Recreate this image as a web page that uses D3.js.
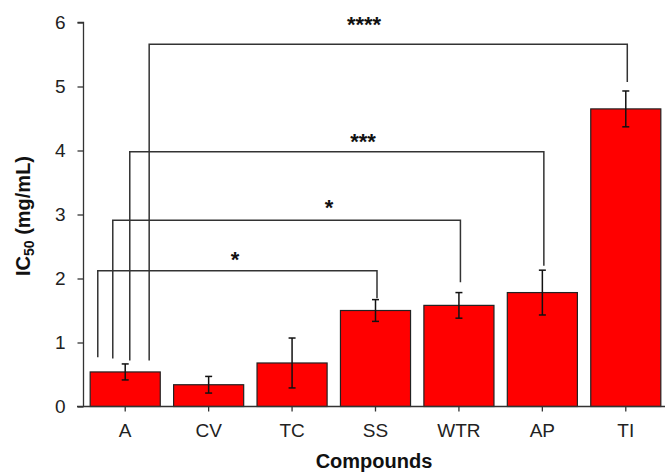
<!DOCTYPE html>
<html>
<head>
<meta charset="utf-8">
<script src="https://cdn.jsdelivr.net/npm/d3@7"></script>
<style>
  html, body { margin: 0; padding: 0; background: #fff; }
  svg { display: block; }
  text { font-family: "Liberation Sans", Arial, sans-serif; }
</style>
</head>
<body>
<svg id="chart" width="665" height="472"></svg>
<script>
// ---- data ----
const categories = ["A", "CV", "TC", "SS", "WTR", "AP", "TI"];
const ic50Values = [0.54, 0.34, 0.68, 1.50, 1.58, 1.78, 4.65];
const ic50Errors = [0.125, 0.13, 0.39, 0.17, 0.20, 0.35, 0.28];
const yTickValues = [0, 1, 2, 3, 4, 5, 6];

// significance brackets (all from "A")
const bracketFrom = ["A", "A", "A", "A"];
const bracketTo = ["SS", "WTR", "AP", "TI"];
const bracketLevel = [2.12, 2.91, 3.98, 5.66];
const bracketLeftEnd = [0.77, 0.75, 0.72, 0.72];
const bracketRightEnd = [1.69, 1.94, 2.20, 5.07];
const bracketLabels = ["*", "*", "***", "****"];

// ---- layout (pixels) ----
const legOffsets = [7.6, 22.6, 39.6, 59];     // left leg x from bar left edge
const starX = [235, 329, 363, 364];
const starDy = [4, 5, 3, 12];

const svg = d3.select("#chart");
const x = d3.scaleBand().domain(categories).range([83.5, 667.5])
  .paddingInner(0.16).paddingOuter(0.08);
const y = d3.scaleLinear().domain([0, 6]).range([406.5, 22.5]);

const axisColor = "#333";
const tickFont = 19;

// bars
svg.append("g").selectAll("rect").data(categories).join("rect")
  .attr("x", d => x(d))
  .attr("y", (d, i) => y(ic50Values[i]))
  .attr("width", x.bandwidth())
  .attr("height", (d, i) => y(0) - y(ic50Values[i]))
  .attr("fill", "#ff0000")
  .attr("stroke", "#222")
  .attr("stroke-width", 1.2);

// error bars
const eg = svg.append("g").attr("stroke", "#111").attr("stroke-width", 1.5);
categories.forEach((c, i) => {
  const cx = x(c) + x.bandwidth() / 2;
  const y1 = y(ic50Values[i] + ic50Errors[i]);
  const y0 = y(ic50Values[i] - ic50Errors[i]);
  eg.append("line").attr("x1", cx).attr("x2", cx).attr("y1", y1).attr("y2", y0);
  eg.append("line").attr("x1", cx - 3.5).attr("x2", cx + 3.5).attr("y1", y1).attr("y2", y1);
  eg.append("line").attr("x1", cx - 3.5).attr("x2", cx + 3.5).attr("y1", y0).attr("y2", y0);
});

// brackets
const bg = svg.append("g").attr("stroke", "#333").attr("stroke-width", 1.5).attr("fill", "none");
bracketTo.forEach((t, i) => {
  const lx = x(bracketFrom[i]) + legOffsets[i];
  const rx = x(t) + x.bandwidth() / 2 + 1.5;
  const ly = y(bracketLevel[i]);
  bg.append("path")
    .attr("d", `M${lx},${y(bracketLeftEnd[i])}V${ly}H${rx}V${y(bracketRightEnd[i])}`);
  svg.append("text")
    .attr("x", starX[i])
    .attr("y", ly - starDy[i])
    .attr("text-anchor", "middle")
    .attr("font-size", 22)
    .attr("font-weight", "bold")
    .attr("fill", "#111")
    .text(bracketLabels[i]);
});

// y axis
const yAxis = svg.append("g").attr("transform", "translate(83.5,0)")
  .call(d3.axisLeft(y).tickValues(yTickValues).tickFormat(d3.format("d"))
    .tickSize(6).tickPadding(12));
yAxis.select(".domain").attr("stroke", axisColor).attr("stroke-width", 1.3)
  .attr("d", `M-6,${y(6)}H0V${y(0)}`);
yAxis.selectAll(".tick line").attr("stroke", axisColor).attr("stroke-width", 1.3);
yAxis.selectAll(".tick text").attr("font-size", tickFont).attr("fill", "#222")
  .attr("font-family", "Liberation Sans, Arial, sans-serif");

// x axis
const xAxis = svg.append("g").attr("transform", `translate(0,${y(0)})`)
  .call(d3.axisBottom(x).tickSize(5).tickPadding(12.5));
xAxis.select(".domain").attr("stroke", axisColor).attr("stroke-width", 1.3)
  .attr("d", "M77,0H665");
xAxis.selectAll(".tick line").attr("stroke", axisColor).attr("stroke-width", 1.3);
xAxis.selectAll(".tick text").attr("font-size", tickFont).attr("fill", "#222")
  .attr("font-family", "Liberation Sans, Arial, sans-serif");

// axis titles
svg.append("text")
  .attr("x", 374).attr("y", 468)
  .attr("text-anchor", "middle")
  .attr("font-family", "DejaVu Sans, sans-serif")
  .attr("font-size", 20).attr("font-weight", "bold").attr("fill", "#111")
  .text("Compounds");

const yt = svg.append("text")
  .attr("transform", "translate(30,216) rotate(-90)")
  .attr("text-anchor", "middle")
  .attr("font-family", "DejaVu Sans, sans-serif")
  .attr("font-size", 20).attr("font-weight", "bold").attr("fill", "#111");
yt.append("tspan").text("IC");
yt.append("tspan").attr("font-size", 14).attr("dy", 4).text("50");
yt.append("tspan").attr("dy", -4).text(" (mg/mL)");
</script>
</body>
</html>
